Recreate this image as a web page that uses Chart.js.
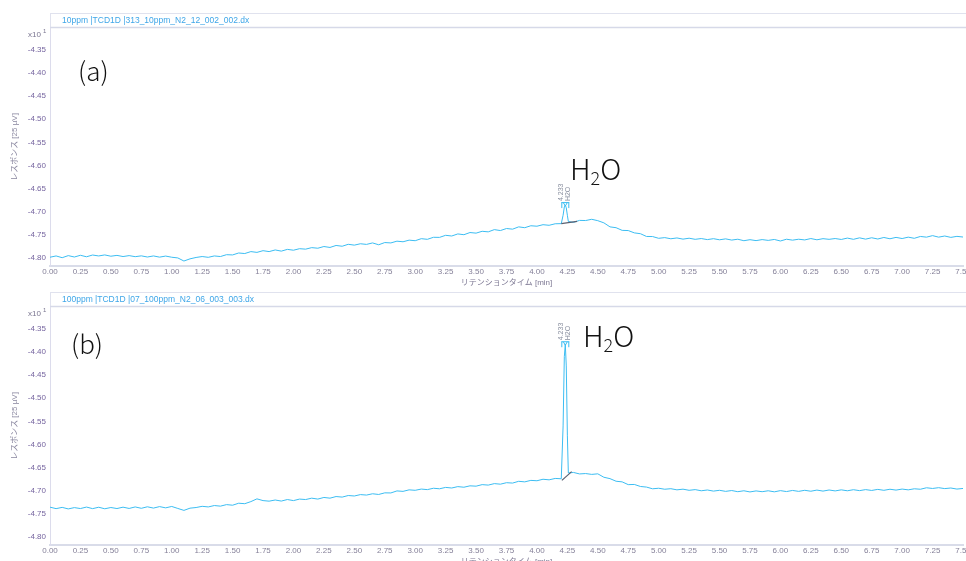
<!DOCTYPE html>
<html><head><meta charset="utf-8">
<script src="https://cdn.jsdelivr.net/npm/chart.js@4.4.0/dist/chart.umd.min.js"></script>
<style>
html,body{margin:0;padding:0;background:#fff;overflow:hidden;width:966px;height:561px;position:relative;}
canvas{position:absolute;left:0;background:transparent;}
#c1{top:0;}
#c2{top:279px;}
.lbl{position:absolute;font-family:"Noto Sans CJK JP","Noto Sans",sans-serif;font-weight:300;color:#111;line-height:1;white-space:nowrap;}
.lbl sub{font-size:62%;vertical-align:-0.28em;line-height:0;}
</style></head><body>
<canvas id="c1" width="966" height="292"></canvas>
<canvas id="c2" width="966" height="292"></canvas>
<div class="lbl" style="left:78px;top:57px;font-size:26px">(a)</div>
<div class="lbl" style="left:570px;top:153px;font-size:29px">H<sub>2</sub>O</div>
<div class="lbl" style="left:71px;top:330px;font-size:26px">(b)</div>
<div class="lbl" style="left:583px;top:320px;font-size:29px">H<sub>2</sub>O</div>
<script>
// ---- data ----
const headerTexts = ["10ppm |TCD1D |313_10ppm_N2_12_002_002.dx", "100ppm |TCD1D |07_100ppm_N2_06_003_003.dx"];
const xTitle = "リテンションタイム [min]";
const yTitle = "レスポンス [25 µV]";
const peakTime = 4.233;
const peakLabel = "H2O";

const times = [
0.00,0.05,0.10,0.15,0.20,0.25,0.30,0.35,0.40,0.45,0.50,0.55,0.60,0.65,0.70,0.75,0.80,0.85,0.90,0.95,
1.00,1.05,1.10,1.15,1.20,1.25,1.30,1.35,1.40,1.45,1.50,1.55,1.60,1.65,1.70,1.75,1.80,1.85,1.90,1.95,
2.00,2.05,2.10,2.15,2.20,2.25,2.30,2.35,2.40,2.45,2.50,2.55,2.60,2.65,2.70,2.75,2.80,2.85,2.90,2.95,
3.00,3.05,3.10,3.15,3.20,3.25,3.30,3.35,3.40,3.45,3.50,3.55,3.60,3.65,3.70,3.75,3.80,3.85,3.90,3.95,
4.00,4.05,4.10,4.15,4.20,4.215,4.225,4.233,4.241,4.25,4.258,4.30,4.35,4.40,4.45,4.50,4.55,4.60,4.65,4.70,4.75,
4.80,4.85,4.90,4.95,5.00,5.05,5.10,5.15,5.20,5.25,5.30,5.35,5.40,5.45,5.50,5.55,5.60,5.65,5.70,5.75,
5.80,5.85,5.90,5.95,6.00,6.05,6.10,6.15,6.20,6.25,6.30,6.35,6.40,6.45,6.50,6.55,6.60,6.65,6.70,6.75,
6.80,6.85,6.90,6.95,7.00,7.05,7.10,7.15,7.20,7.25,7.30,7.35,7.40,7.45,7.50
];

const resp10ppm = [
-4.7990,-4.7962,-4.8000,-4.7955,-4.7985,-4.7948,-4.7980,-4.7942,-4.7962,-4.7940,-4.7968,-4.7950,-4.7975,-4.7955,-4.7978,-4.7960,-4.7985,-4.7962,-4.7988,-4.7965,
-4.7990,-4.8005,-4.8072,-4.8025,-4.7995,-4.7975,-4.7992,-4.7962,-4.7975,-4.7935,-4.7940,-4.7898,-4.7910,-4.7868,-4.7885,-4.7848,-4.7868,-4.7832,-4.7858,-4.7820,
-4.7838,-4.7805,-4.7815,-4.7782,-4.7795,-4.7758,-4.7778,-4.7735,-4.7752,-4.7710,-4.7728,-4.7698,-4.7712,-4.7680,-4.7720,-4.7672,-4.7680,-4.7642,-4.7655,-4.7620,
-4.7632,-4.7588,-4.7602,-4.7558,-4.7560,-4.7515,-4.7530,-4.7485,-4.7502,-4.7455,-4.7468,-4.7428,-4.7440,-4.7392,-4.7412,-4.7368,-4.7382,-4.7332,-4.7350,-4.7308,
-4.7318,-4.7285,-4.7298,-4.7265,-4.7262,-4.7080,-4.6900,-4.6860,-4.6920,-4.7080,-4.7215,-4.7235,-4.7192,-4.7195,-4.7168,-4.7198,-4.7245,-4.7332,-4.7350,-4.7408,-4.7412,
-4.7462,-4.7480,-4.7540,-4.7542,-4.7580,-4.7565,-4.7590,-4.7572,-4.7598,-4.7578,-4.7602,-4.7585,-4.7608,-4.7588,-4.7612,-4.7592,-4.7618,-4.7600,-4.7632,-4.7610,
-4.7630,-4.7608,-4.7625,-4.7605,-4.7638,-4.7600,-4.7620,-4.7600,-4.7615,-4.7585,-4.7612,-4.7588,-4.7602,-4.7585,-4.7605,-4.7575,-4.7602,-4.7570,-4.7598,-4.7568,
-4.7595,-4.7562,-4.7590,-4.7560,-4.7585,-4.7555,-4.7580,-4.7540,-4.7555,-4.7522,-4.7555,-4.7530,-4.7560,-4.7538,-4.7552
];

const resp100ppm = [
-4.7360,-4.7392,-4.7365,-4.7398,-4.7370,-4.7390,-4.7358,-4.7392,-4.7362,-4.7395,-4.7368,-4.7390,-4.7360,-4.7388,-4.7355,-4.7385,-4.7352,-4.7380,-4.7348,-4.7375,
-4.7345,-4.7388,-4.7430,-4.7382,-4.7368,-4.7342,-4.7355,-4.7325,-4.7338,-4.7305,-4.7318,-4.7275,-4.7285,-4.7240,-4.7180,-4.7218,-4.7230,-4.7205,-4.7228,-4.7195,
-4.7218,-4.7185,-4.7195,-4.7165,-4.7185,-4.7150,-4.7165,-4.7130,-4.7142,-4.7108,-4.7118,-4.7088,-4.7098,-4.7070,-4.7085,-4.7050,-4.7052,-4.7008,-4.7018,-4.6985,
-4.6995,-4.6968,-4.6980,-4.6950,-4.6962,-4.6932,-4.6945,-4.6915,-4.6928,-4.6898,-4.6905,-4.6872,-4.6882,-4.6850,-4.6862,-4.6830,-4.6838,-4.6800,-4.6812,-4.6780,
-4.6788,-4.6755,-4.6768,-4.6738,-4.6745,-4.5600,-4.4100,-4.3830,-4.4300,-4.5800,-4.6620,-4.6608,-4.6640,-4.6632,-4.6650,-4.6638,-4.6712,-4.6742,-4.6798,-4.6812,-4.6872,
-4.6868,-4.6912,-4.6925,-4.6962,-4.6950,-4.6972,-4.6960,-4.6985,-4.6970,-4.6995,-4.6980,-4.7005,-4.6988,-4.7012,-4.6995,-4.7018,-4.7000,-4.7025,-4.7005,-4.7030,
-4.7008,-4.7025,-4.7005,-4.7028,-4.7002,-4.7022,-4.6998,-4.7018,-4.6995,-4.7015,-4.6990,-4.7012,-4.6988,-4.7008,-4.6985,-4.7005,-4.6982,-4.7002,-4.6980,-4.6998,
-4.6975,-4.6995,-4.6972,-4.6990,-4.6968,-4.6985,-4.6962,-4.6972,-4.6940,-4.6955,-4.6938,-4.6958,-4.6945,-4.6968,-4.6955
];

// integration baselines under the peak (start, end)
const baseline10Times = [4.20, 4.33];
const baseline10Vals  = [-4.7262, -4.7212];
const baseline100Times = [4.205, 4.285];
const baseline100Vals  = [-4.6780, -4.6590];

const yMin = -4.818, yMax = -4.3023;

// ---- chart building ----
const FONT = '"Liberation Sans", Arial, "Noto Sans CJK JP", sans-serif';

const panelPlugin = {
  id: 'panel',
  beforeDraw(chart) {
    const ctx = chart.ctx;
    const o = chart.options.plugins.panel;
    ctx.save();
    ctx.fillStyle = '#fff';
    ctx.fillRect(50, 13, chart.width - 50, 15);
    ctx.strokeStyle = '#e0e2ee';
    ctx.lineWidth = 1;
    ctx.strokeRect(50.5, 13.5, chart.width, 14);
    ctx.strokeStyle = '#d6d9e8';
    ctx.lineWidth = 1.5;
    ctx.beginPath(); ctx.moveTo(50, 27.5); ctx.lineTo(chart.width, 27.5); ctx.stroke();
    ctx.fillStyle = '#3ea6e8';
    ctx.font = '8.5px ' + FONT;
    ctx.textBaseline = 'middle';
    ctx.fillText(o.header, 62, 20.5);
    ctx.fillStyle = '#7a7590';
    ctx.font = '8px ' + FONT;
    ctx.fillText('x10', 28, 34.5);
    ctx.font = '6px ' + FONT;
    ctx.fillText('1', 43, 31.5);
    ctx.restore();
  },
  afterDatasetsDraw(chart) {
    const o = chart.options.plugins.panel;
    const ctx = chart.ctx;
    const xs = chart.scales.x, ys = chart.scales.y;
    const idx = times.indexOf(peakTime);
    const px = xs.getPixelForValue(peakTime);
    const py = ys.getPixelForValue(o.values[idx]);
    ctx.save();
    ctx.strokeStyle = '#3cbdf2';
    ctx.lineWidth = 1;
    ctx.beginPath();
    ctx.moveTo(px - 4, py - 2.5); ctx.lineTo(px + 4, py - 2.5);
    ctx.moveTo(px - 3.5, py - 2.5); ctx.lineTo(px - 3.5, py + 3);
    ctx.moveTo(px + 3.5, py - 2.5); ctx.lineTo(px + 3.5, py + 3);
    ctx.moveTo(px - 2, py - 2.5); ctx.lineTo(px, py + 1); ctx.lineTo(px + 2, py - 2.5);
    ctx.stroke();
    ctx.fillStyle = '#8a90a0';
    ctx.font = '7px ' + FONT;
    ctx.textBaseline = 'middle';
    ctx.textAlign = 'left';
    ctx.translate(px - 4.5, py - 4);
    ctx.rotate(-Math.PI / 2);
    ctx.fillText(peakTime.toFixed(3), 0, 0);
    ctx.fillText(peakLabel, 0, 7);
    ctx.restore();
  }
};

function makeChart(id, header, values, bT, bV) {
  const trace = times.map((t, i) => ({x: t, y: values[i]}));
  const base = bT.map((t, i) => ({x: t, y: bV[i]}));
  return new Chart(document.getElementById(id), {
    type: 'scatter',
    data: {
      datasets: [
        {data: base, showLine: true, borderColor: '#5a6070', borderWidth: 1.2, pointRadius: 0, order: 0},
        {data: trace, showLine: true, borderColor: '#3cbdf2', borderWidth: 1, pointRadius: 0, tension: 0, order: 1}
      ]
    },
    options: {
      responsive: false,
      animation: false,
      events: [],
      layout: {autoPadding: false, padding: {left: 0, right: 3, top: 28, bottom: 0}},
      plugins: {legend: {display: false}, tooltip: {enabled: false}, panel: {header, values}},
      scales: {
        x: {
          type: 'linear', min: 0, max: 7.5,
          afterFit(s) { s.height = 26; s.paddingLeft = 0; s.paddingRight = 0; },
          grid: {display: true, color: 'rgba(0,0,0,0)', drawTicks: false},
          border: {display: true, color: '#d9dce9', width: 2},
          ticks: {stepSize: 0.25, autoSkip: false, maxRotation: 0, padding: 1, color: '#858099',
                  font: {family: FONT, size: 8}, callback: v => v.toFixed(2)},
          title: {display: true, text: xTitle, color: '#7f7a95', font: {family: FONT, size: 8}, padding: {top: 0, bottom: 4}}
        },
        y: {
          type: 'linear', min: yMin, max: yMax,
          afterFit(s) { s.width = 50; s.paddingTop = 0; s.paddingBottom = 0; },
          grid: {display: true, color: 'rgba(0,0,0,0)', drawTicks: false},
          border: {display: true, color: '#dcdcec', width: 1},
          ticks: {stepSize: 0.05, includeBounds: false, padding: 4, color: '#75649f',
                  font: {family: FONT, size: 8}, callback: v => v.toFixed(2)},
          title: {display: true, text: yTitle, color: '#8a87a0', font: {family: FONT, size: 8}, padding: {top: 10, bottom: 0}}
        }
      }
    },
    plugins: [panelPlugin]
  });
}

makeChart('c1', headerTexts[0], resp10ppm, baseline10Times, baseline10Vals);
makeChart('c2', headerTexts[1], resp100ppm, baseline100Times, baseline100Vals);
</script>
</body></html>
